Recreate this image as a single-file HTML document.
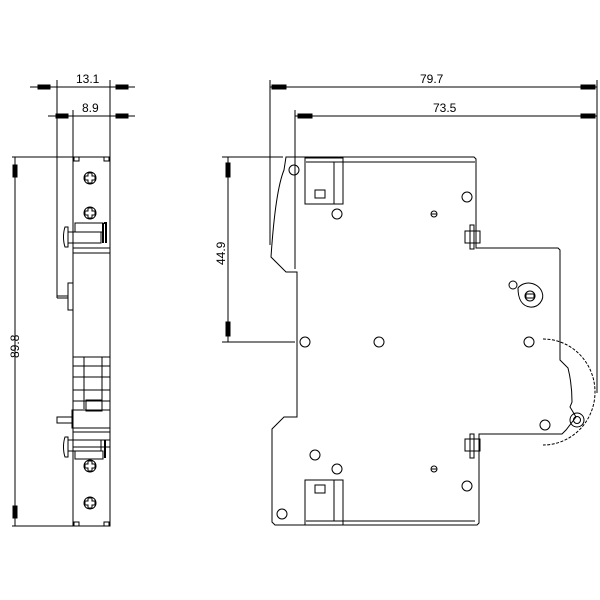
<!DOCTYPE html>
<html><head><style>body{margin:0;background:#fff}svg{display:block}text{font-family:"Liberation Sans",sans-serif;font-size:12px;fill:#000}</style></head><body>
<svg width="600" height="600" viewBox="0 0 600 600" fill="none" stroke="#000" stroke-width="1">
<line x1="30" y1="87" x2="135" y2="87"/>
<path d="M38 85h12v4h-12z M116 85h12v4h-12z" fill="#000"/>
<text x="76" y="83" stroke="none">13.1</text>
<line x1="48" y1="116" x2="135" y2="116"/>
<path d="M56 114h12v4h-12z M116 114h12v4h-12z" fill="#000"/>
<text x="82" y="112" stroke="none">8.9</text>
<line x1="57" y1="80" x2="57" y2="298"/>
<line x1="57" y1="298" x2="68" y2="298"/>
<line x1="73" y1="110" x2="73" y2="157"/>
<line x1="110" y1="80" x2="110" y2="157"/>
<line x1="12" y1="157" x2="110" y2="157"/>
<line x1="12" y1="526" x2="73" y2="526"/>
<line x1="15" y1="157" x2="15" y2="526"/>
<path d="M13 165h4v12h-4z M13 506h4v12h-4z" fill="#000"/>
<text x="0" y="0" stroke="none" transform="translate(19,358) rotate(-90)">89.8</text>
<rect x="73" y="157" width="37" height="369"/>
<rect x="74" y="157" width="5" height="4"/><rect x="104" y="157" width="5" height="4"/>
<rect x="74" y="522" width="5" height="4"/><rect x="104" y="522" width="5" height="4"/>
<g>
<circle cx="90" cy="178" r="6"/><path d="M88 173h4v3h3v4h-3v3h-4v-3h-3v-4h3z"/>
<circle cx="90" cy="213" r="6"/><path d="M88 208h4v3h3v4h-3v3h-4v-3h-3v-4h3z"/>
<circle cx="90" cy="466" r="6"/><path d="M88 461h4v3h3v4h-3v3h-4v-3h-3v-4h3z"/>
<circle cx="90" cy="503" r="6"/><path d="M88 498h4v3h3v4h-3v3h-4v-3h-3v-4h3z"/>
</g>
<rect x="75" y="223" width="28" height="9"/>
<rect x="68" y="232" width="33" height="11"/>
<path d="M65 227h3v20h-3c-2-6-2-14 0-20z"/>
<line x1="73" y1="248" x2="110" y2="248"/><line x1="73" y1="253" x2="110" y2="253"/>
<path d="M103 223v20M104 223h2v20" stroke-width="2"/>
<rect x="68" y="283" width="5" height="27"/>
<line x1="57" y1="296" x2="68" y2="296"/>
<line x1="73" y1="357" x2="110" y2="357"/>
<path d="M84 357v52M102 357v52M73 366h37M73 377h37M73 390h37M73 401h37" />
<rect x="86" y="400" width="16" height="11"/>
<rect x="72" y="410" width="38" height="18"/>
<rect x="57" y="417" width="15" height="6"/>
<path d="M73 432h37M73 440h37M73 447h37"/>
<rect x="68" y="440" width="33" height="11"/>
<path d="M65 437h3v20h-3c-2-6-2-14 0-20z"/>
<rect x="75" y="451" width="28" height="8"/>
<path d="M105 440v18" stroke-width="2"/>
<line x1="270" y1="87" x2="597" y2="87"/>
<path d="M272 85h14v4h-14z M581 85h14v4h-14z" fill="#000"/>
<text x="420" y="83" stroke="none">79.7</text>
<line x1="295" y1="116" x2="597" y2="116"/>
<path d="M298 114h14v4h-14z M581 114h14v4h-14z" fill="#000"/>
<text x="433" y="112" stroke="none">73.5</text>
<line x1="270" y1="80" x2="270" y2="245"/>
<line x1="295" y1="110" x2="295" y2="269"/>
<line x1="597" y1="80" x2="597" y2="393"/>
<line x1="222" y1="157" x2="283" y2="157"/>
<line x1="222" y1="342" x2="295" y2="342"/>
<line x1="228" y1="157" x2="228" y2="342"/>
<path d="M226 163h4v14h-4z M226 322h4v14h-4z" fill="#000"/>
<text x="0" y="0" stroke="none" transform="translate(225,265) rotate(-90)">44.9</text>
<path d="M286 157h188l2 2v89h82l2 2v110l8 8c2 8 4 20 4 34l-2 5 6 10-10 13-4 4h-83v89l-2 2h-202l-3-3v-93l12-12h13v-145h-11l-15-15c2-30 6-70 13-87z"/>
<line x1="306" y1="162" x2="475" y2="162"/>
<rect x="305" y="158" width="38" height="46"/><line x1="334" y1="162" x2="334" y2="204"/>
<rect x="315" y="190" width="10" height="8"/>
<rect x="305" y="480" width="38" height="45"/><line x1="334" y1="480" x2="334" y2="521"/>
<rect x="315" y="485" width="10" height="8"/>
<line x1="306" y1="521" x2="475" y2="521"/>
<g>
<circle cx="294" cy="170" r="5"/><circle cx="337" cy="214" r="5"/><circle cx="467" cy="197" r="5"/>
<circle cx="434" cy="214" r="3"/><line x1="431" y1="214" x2="437" y2="214"/>
<circle cx="305" cy="342" r="5"/><circle cx="379" cy="342" r="5"/><circle cx="529" cy="342" r="5"/>
<circle cx="315" cy="455" r="5"/><circle cx="337" cy="469" r="5"/><circle cx="467" cy="486" r="5"/>
<circle cx="434" cy="469" r="3"/><line x1="431" y1="469" x2="437" y2="469"/>
<circle cx="282" cy="514" r="5"/><circle cx="545" cy="425" r="5"/>
<circle cx="513" cy="285" r="4"/>
<path d="M518 288c6-8 20-6 24 4 3 8-4 16-12 15-8-1-12-8-12-19z"/>
<circle cx="530" cy="296" r="5"/><rect x="526" y="294" width="8" height="4"/>
<circle cx="577" cy="420" r="7"/><circle cx="577" cy="420" r="3.5"/>
</g>
<rect x="465" y="231" width="15" height="12"/><rect x="470" y="225" width="4" height="24"/>
<rect x="465" y="439" width="15" height="12"/><rect x="470" y="434" width="4" height="24"/>
<path d="M543 339a52 53 0 0 1 0 106" stroke-dasharray="3,1.5"/>
</svg>
</body></html>
